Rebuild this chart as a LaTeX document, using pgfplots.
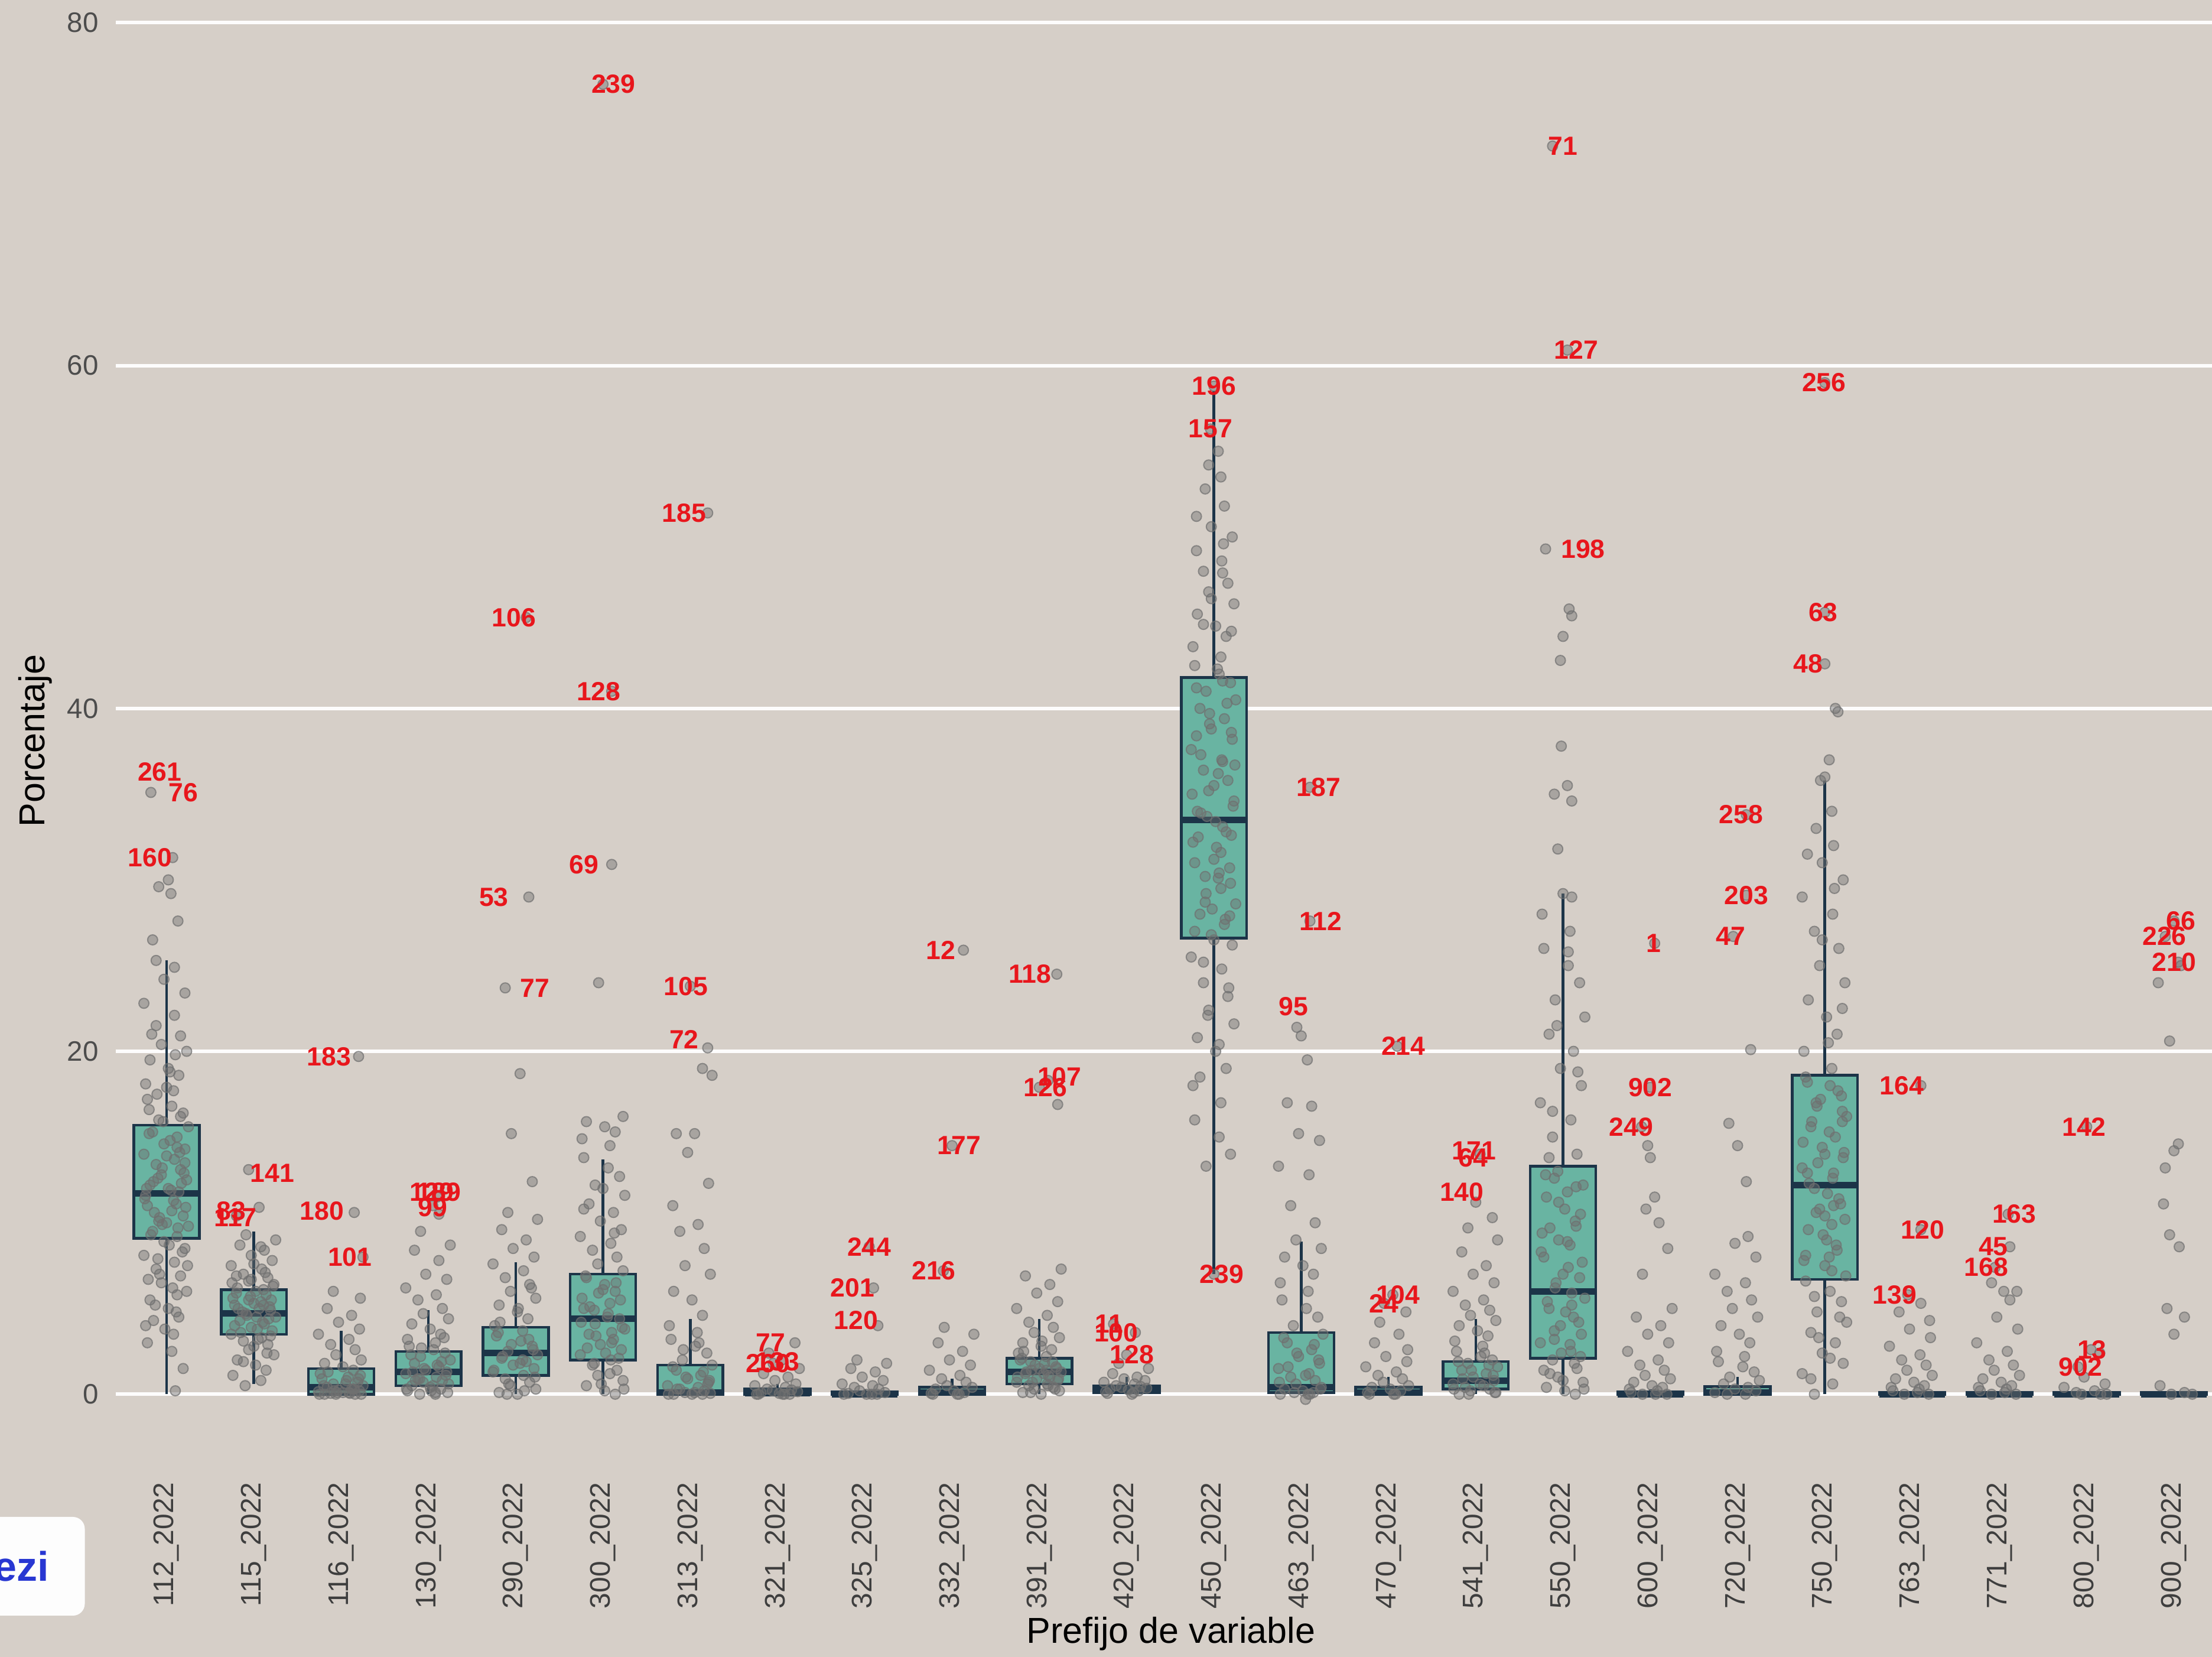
\documentclass[border=0pt]{standalone}
\usepackage{fontspec}
\setmainfont{Liberation Sans}
\usepackage{pgfplots}
\usepackage{pgfplotstable}
\pgfplotsset{compat=1.18}
\usepgfplotslibrary{statistics}
\definecolor{bgc}{RGB}{214,207,200}
\definecolor{boxfill}{RGB}{105,180,162}
\definecolor{boxline}{RGB}{28,52,72}
\definecolor{ptc}{RGB}{112,112,112}
\definecolor{labred}{RGB}{232,22,28}
\definecolor{tickc}{RGB}{77,77,77}
\definecolor{xtickc}{RGB}{62,62,62}
\definecolor{prezi}{RGB}{40,55,210}

\pgfplotstableread[row sep=\\]{d v\\ -0.18 35.1\\ 0.07 31.3\\ 0.02 30.0\\ -0.09 29.6\\ 0.05 29.2\\ 0.13 27.6\\ -0.16 26.5\\ -0.12 25.3\\ 0.09 24.9\\ -0.03 24.2\\ 0.21 23.4\\ -0.26 22.8\\ 0.09 22.1\\ -0.12 21.5\\ 0.16 20.9\\ -0.06 20.4\\ 0.23 20.0\\ -0.19 19.5\\ 0.02 19.0\\ 0.14 18.6\\ -0.24 18.1\\ 0.08 17.7\\ -0.22 17.2\\ 0.06 16.8\\ 0.19 16.4\\ -0.09 16.0\\ 0.25 15.6\\ -0.16 15.3\\ 0.12 15.0\\ -0.03 14.6\\ 0.21 14.3\\ -0.26 14.0\\ 0.09 13.7\\ -0.12 13.4\\ 0.16 13.1\\ -0.06 12.8\\ 0.23 12.5\\ -0.19 12.2\\ 0.02 12.0\\ 0.14 11.8\\ -0.24 11.6\\ 0.08 11.3\\ -0.22 11.0\\ 0.06 10.7\\ 0.19 10.4\\ -0.09 10.1\\ 0.25 9.8\\ -0.16 9.5\\ 0.12 9.2\\ -0.03 8.9\\ 0.21 8.5\\ -0.26 8.1\\ 0.09 7.7\\ -0.12 7.3\\ 0.16 6.9\\ -0.06 6.5\\ 0.23 6.0\\ -0.19 5.5\\ 0.02 5.0\\ 0.14 4.5\\ -0.24 4.0\\ 0.08 3.5\\ -0.22 3.0\\ 0.06 2.5\\ 0.19 1.5\\ 0.1 0.2\\ 0.0 13.9\\ -0.1 12.6\\ 0.11 11.1\\ -0.05 9.9\\ 0.04 14.8\\ -0.14 10.6\\ 0.0 17.9\\ -0.2 16.6\\ 0.17 12.3\\ -0.08 7.0\\ 0.12 5.8\\ -0.15 4.3\\ -0.2 15.2\\ 0.15 14.1\\ -0.05 13.2\\ 0.2 12.9\\ -0.15 12.4\\ 0.05 11.9\\ -0.25 11.4\\ 0.22 10.9\\ -0.08 10.3\\ 0.13 9.7\\ -0.18 9.3\\ 0.03 8.7\\ 0.18 8.3\\ -0.1 7.9\\ 0.24 7.5\\ -0.21 6.7\\ 0.07 6.2\\ -0.13 5.2\\ 0.11 4.8\\ -0.02 3.8\\ 0.16 16.2\\ -0.11 17.5\\ 0.04 18.8\\ -0.17 21.0\\ 0.1 19.8\\ -0.04 15.9\\ 0.21 13.5\\ -0.23 12.0\\ 0.0 10.0\\ 0.12 14.4\\}\tA
\pgfplotstableread[row sep=\\]{d v\\ -0.06 13.1\\ 0.06 10.9\\ -0.2 10.4\\ -0.09 9.3\\ 0.25 9.0\\ -0.16 8.7\\ 0.12 8.4\\ -0.03 8.1\\ 0.21 7.8\\ -0.26 7.5\\ 0.09 7.3\\ -0.12 7.0\\ 0.16 6.8\\ -0.06 6.6\\ 0.23 6.4\\ -0.19 6.2\\ 0.02 6.0\\ 0.14 5.8\\ -0.24 5.6\\ 0.08 5.4\\ -0.22 5.2\\ 0.06 5.0\\ 0.19 4.9\\ -0.09 4.7\\ 0.25 4.5\\ -0.16 4.3\\ 0.12 4.1\\ -0.03 3.9\\ 0.21 3.7\\ -0.26 3.5\\ 0.09 3.3\\ -0.12 3.1\\ 0.16 2.9\\ -0.06 2.6\\ 0.23 2.3\\ -0.19 2.0\\ 0.02 1.7\\ 0.14 1.4\\ -0.24 1.1\\ 0.08 0.8\\ -0.1 0.5\\ 0.0 5.3\\ -0.13 4.8\\ 0.11 6.1\\ 0.04 3.8\\ -0.04 5.7\\ 0.17 4.4\\ -0.2 6.9\\ 0.2 5.5\\ 0.0 7.6\\ -0.2 5.9\\ 0.18 5.1\\ -0.08 4.6\\ 0.1 4.2\\ -0.15 3.6\\ 0.05 3.2\\ 0.22 6.3\\ -0.03 6.7\\ 0.13 7.1\\ -0.22 4.0\\ 0.0 2.8\\ 0.15 2.4\\ -0.12 1.9\\ 0.08 8.6\\ -0.18 5.0\\ 0.03 4.5\\ 0.19 3.4\\ -0.06 5.5\\ 0.11 5.2\\ -0.25 6.5\\}\tB
\pgfplotstableread[row sep=\\]{d v\\ 0.2 19.7\\ 0.15 10.6\\ 0.25 8.0\\ -0.09 6.0\\ 0.22 5.6\\ -0.16 5.0\\ 0.12 4.6\\ -0.03 4.2\\ 0.21 3.8\\ -0.26 3.5\\ 0.09 3.2\\ -0.12 2.9\\ 0.16 2.6\\ -0.06 2.3\\ 0.23 2.0\\ -0.19 1.8\\ 0.02 1.6\\ 0.14 1.4\\ -0.24 1.2\\ 0.08 1.0\\ -0.22 0.9\\ 0.06 0.8\\ 0.19 0.7\\ -0.09 0.6\\ 0.25 0.5\\ -0.16 0.4\\ 0.12 0.3\\ -0.03 0.25\\ 0.21 0.2\\ -0.26 0.15\\ 0.09 0.1\\ -0.12 0.05\\ 0.16 0\\ -0.06 0\\ 0.23 0\\ -0.19 0\\ 0.02 0.1\\ 0.14 0.3\\ -0.2 0.5\\ 0.15 0.3\\ -0.05 0.1\\ 0.2 0.9\\ -0.15 1.3\\ 0.05 0.6\\ -0.25 0\\ 0.22 1.1\\ -0.08 0.2\\ 0.1 0.05\\}\tC
\pgfplotstableread[row sep=\\]{d v\\ 0.1 11.5\\ 0.05 11.0\\ 0.12 10.5\\ -0.09 9.5\\ 0.25 8.7\\ -0.16 8.4\\ 0.12 7.8\\ -0.03 7.0\\ 0.21 6.7\\ -0.26 6.2\\ 0.09 5.8\\ -0.12 5.5\\ 0.16 5.0\\ -0.06 4.7\\ 0.23 4.4\\ -0.19 4.1\\ 0.02 3.8\\ 0.14 3.5\\ -0.24 3.2\\ 0.08 3.0\\ -0.22 2.8\\ 0.06 2.6\\ 0.19 2.4\\ -0.09 2.2\\ 0.25 2.0\\ -0.16 1.8\\ 0.12 1.6\\ -0.03 1.4\\ 0.21 1.3\\ -0.26 1.2\\ 0.09 1.0\\ -0.12 0.9\\ 0.16 0.8\\ -0.06 0.7\\ 0.23 0.6\\ -0.19 0.5\\ 0.02 0.4\\ 0.14 0.3\\ -0.24 0.2\\ 0.08 0.1\\ -0.1 0\\ -0.2 2.3\\ 0.15 1.9\\ -0.05 1.5\\ 0.2 1.1\\ -0.15 0.8\\ 0.05 0.5\\ -0.25 0.3\\ 0.22 0.1\\ -0.08 2.7\\ 0.1 1.7\\ -0.18 1.3\\ 0.03 0.2\\ 0.18 3.3\\ -0.1 0.9\\ 0.08 0\\}\tD
\pgfplotstableread[row sep=\\]{d v\\ 0.12 45.3\\ 0.15 29.0\\ -0.12 23.7\\ 0.05 18.7\\ -0.05 15.2\\ 0.19 12.4\\ -0.09 10.6\\ 0.25 10.2\\ -0.16 9.6\\ 0.12 9.0\\ -0.03 8.5\\ 0.21 8.0\\ -0.26 7.6\\ 0.09 7.2\\ -0.12 6.8\\ 0.16 6.4\\ -0.06 6.0\\ 0.23 5.6\\ -0.19 5.2\\ 0.02 4.8\\ 0.14 4.4\\ -0.24 4.0\\ 0.08 3.7\\ -0.22 3.4\\ 0.06 3.1\\ 0.19 2.8\\ -0.09 2.5\\ 0.25 2.3\\ -0.16 2.1\\ 0.12 1.9\\ -0.03 1.7\\ 0.21 1.5\\ -0.26 1.3\\ 0.09 1.1\\ -0.12 0.9\\ 0.16 0.7\\ -0.06 0.5\\ 0.23 0.3\\ -0.19 0.1\\ 0.02 0\\ -0.2 3.6\\ 0.15 3.2\\ -0.05 2.9\\ 0.2 2.6\\ -0.15 2.2\\ 0.05 1.8\\ -0.25 1.4\\ 0.22 1.0\\ -0.08 0.6\\ 0.1 0.2\\ -0.18 4.2\\ 0.03 5.0\\ 0.18 6.2\\ -0.1 0\\ 0.08 2.0\\}\tE
\pgfplotstableread[row sep=\\]{d v\\ 0.0 76.4\\ 0.1 41.0\\ 0.1 30.9\\ -0.05 24.0\\ 0.23 16.2\\ -0.19 15.9\\ 0.02 15.6\\ 0.14 15.3\\ -0.24 14.9\\ 0.08 14.5\\ -0.22 13.8\\ 0.06 13.2\\ 0.19 12.7\\ -0.09 12.2\\ 0.25 11.6\\ -0.16 11.1\\ 0.12 10.6\\ -0.03 10.1\\ 0.21 9.6\\ -0.26 9.2\\ 0.09 8.8\\ -0.12 8.4\\ 0.16 8.0\\ -0.06 7.6\\ 0.23 7.2\\ -0.19 6.8\\ 0.02 6.4\\ 0.14 6.0\\ -0.24 5.6\\ 0.08 5.3\\ -0.22 5.0\\ 0.06 4.7\\ 0.19 4.4\\ -0.09 4.1\\ 0.25 3.8\\ -0.16 3.5\\ 0.12 3.2\\ -0.03 2.9\\ 0.21 2.6\\ -0.26 2.3\\ 0.09 2.0\\ -0.12 1.7\\ 0.16 1.4\\ -0.06 1.1\\ 0.23 0.8\\ -0.19 0.5\\ 0.02 0.2\\ 0.14 0\\ 0.0 6.1\\ -0.1 4.9\\ 0.1 3.6\\ -0.2 6.9\\ 0.15 6.5\\ -0.05 5.9\\ 0.2 5.5\\ -0.15 5.1\\ 0.05 4.5\\ -0.25 4.2\\ 0.22 3.9\\ -0.08 3.4\\ 0.1 3.0\\ -0.18 2.7\\ 0.03 2.4\\ 0.18 2.1\\ -0.1 1.8\\ 0.08 1.2\\ -0.02 0.6\\ 0.13 9.4\\ -0.22 10.8\\ 0.0 12.0\\ 0.24 0.3\\}\tF
\pgfplotstableread[row sep=\\]{d v\\ 0.2 51.4\\ 0.0 23.8\\ 0.2 20.2\\ 0.14 19.0\\ 0.25 18.6\\ -0.16 15.2\\ 0.05 15.2\\ -0.03 14.1\\ 0.21 12.3\\ -0.2 11.0\\ 0.09 9.9\\ -0.12 9.5\\ 0.16 8.5\\ -0.06 7.5\\ 0.23 7.0\\ -0.19 6.0\\ 0.02 5.5\\ 0.14 4.6\\ -0.24 4.0\\ 0.08 3.6\\ -0.22 3.2\\ 0.06 2.8\\ 0.19 2.4\\ -0.09 2.0\\ 0.25 1.7\\ -0.16 1.4\\ 0.12 1.1\\ -0.03 0.9\\ 0.21 0.7\\ -0.26 0.5\\ 0.09 0.4\\ -0.12 0.3\\ 0.16 0.2\\ -0.06 0.1\\ 0.23 0.05\\ -0.19 0\\ 0.02 0\\ 0.14 0\\ -0.2 1.6\\ 0.15 1.3\\ -0.05 1.0\\ 0.2 0.6\\ -0.15 0.3\\ 0.05 0.1\\ -0.25 0\\ 0.22 0.8\\ -0.08 2.6\\ 0.1 3.0\\}\tG
\pgfplotstableread[row sep=\\]{d v\\ 0.2 3.0\\ -0.1 2.4\\ 0.05 2.0\\ -0.05 1.8\\ 0.25 1.5\\ -0.16 1.2\\ 0.12 1.0\\ -0.03 0.8\\ 0.21 0.6\\ -0.26 0.5\\ 0.09 0.4\\ -0.12 0.3\\ 0.16 0.25\\ -0.06 0.2\\ 0.23 0.15\\ -0.19 0.1\\ 0.02 0.05\\ 0.14 0\\ -0.24 0\\ 0.08 0\\ -0.22 0\\ 0.06 0\\}\tH
\pgfplotstableread[row sep=\\]{d v\\ 0.05 8.6\\ 0.1 6.2\\ 0.15 4.0\\ -0.09 2.0\\ 0.25 1.8\\ -0.16 1.5\\ 0.12 1.3\\ -0.03 1.0\\ 0.21 0.8\\ -0.26 0.6\\ 0.09 0.5\\ -0.12 0.4\\ 0.16 0.3\\ -0.06 0.2\\ 0.23 0.1\\ -0.19 0.05\\ 0.02 0\\ 0.14 0\\ -0.24 0\\ 0.08 0\\}\tI
\pgfplotstableread[row sep=\\]{d v\\ 0.13 25.9\\ 0.0 14.5\\ -0.1 7.2\\ -0.09 3.9\\ 0.25 3.5\\ -0.16 3.0\\ 0.12 2.5\\ -0.03 2.0\\ 0.21 1.7\\ -0.26 1.4\\ 0.09 1.1\\ -0.12 0.9\\ 0.16 0.7\\ -0.06 0.5\\ 0.23 0.4\\ -0.19 0.3\\ 0.02 0.2\\ 0.14 0.1\\ -0.24 0.05\\ 0.08 0\\ -0.22 0\\ 0.06 0\\}\tJ
\pgfplotstableread[row sep=\\]{d v\\ 0.2 24.5\\ 0.1 18.3\\ 0.0 17.9\\ 0.21 16.9\\ 0.25 7.3\\ -0.16 6.9\\ 0.12 6.4\\ -0.03 5.9\\ 0.21 5.4\\ -0.26 5.0\\ 0.09 4.6\\ -0.12 4.2\\ 0.16 3.9\\ -0.06 3.6\\ 0.23 3.3\\ -0.19 3.0\\ 0.02 2.8\\ 0.14 2.6\\ -0.24 2.4\\ 0.08 2.2\\ -0.22 2.0\\ 0.06 1.8\\ 0.19 1.6\\ -0.09 1.4\\ 0.25 1.3\\ -0.16 1.2\\ 0.12 1.0\\ -0.03 0.9\\ 0.21 0.8\\ -0.26 0.7\\ 0.09 0.6\\ -0.12 0.5\\ 0.16 0.4\\ -0.06 0.3\\ 0.23 0.2\\ -0.19 0.1\\ 0.02 0\\ 0.0 1.5\\ -0.1 1.9\\ 0.1 1.1\\ -0.2 2.1\\ 0.15 1.9\\ -0.05 1.7\\ 0.2 1.5\\ -0.15 1.3\\ 0.05 1.2\\ -0.25 1.0\\ 0.22 0.9\\ -0.08 0.7\\ 0.1 0.5\\ -0.18 2.5\\ 0.03 3.1\\ 0.18 0.3\\ -0.1 0.1\\ 0.08 1.4\\}\tK
\pgfplotstableread[row sep=\\]{d v\\ -0.15 4.1\\ 0.1 3.6\\ 0.0 2.3\\ -0.09 1.8\\ 0.25 1.5\\ -0.16 1.2\\ 0.12 1.0\\ -0.03 0.9\\ 0.21 0.8\\ -0.26 0.7\\ 0.09 0.6\\ -0.12 0.5\\ 0.16 0.45\\ -0.06 0.4\\ 0.23 0.35\\ -0.19 0.3\\ 0.02 0.25\\ 0.14 0.2\\ -0.24 0.15\\ 0.08 0.1\\ -0.22 0.05\\ 0.06 0\\}\tL
\pgfplotstableread[row sep=\\]{d v\\ 0.0 58.8\\ -0.04 56.3\\ 0.05 55.0\\ -0.06 54.2\\ 0.08 53.5\\ -0.1 52.8\\ 0.12 51.8\\ -0.03 50.6\\ 0.21 50.0\\ -0.2 49.2\\ 0.09 48.6\\ -0.12 48.0\\ 0.16 47.3\\ -0.06 46.8\\ 0.23 46.1\\ -0.19 45.5\\ 0.02 44.8\\ 0.14 44.2\\ -0.24 43.6\\ 0.08 43.0\\ -0.22 42.5\\ 0.06 42.0\\ 0.19 41.5\\ -0.09 41.0\\ 0.25 40.5\\ -0.16 40.0\\ 0.12 39.4\\ -0.03 38.8\\ 0.21 38.2\\ -0.26 37.6\\ 0.09 37.0\\ -0.12 36.4\\ 0.16 35.8\\ -0.06 35.2\\ 0.23 34.6\\ -0.19 34.0\\ 0.02 33.4\\ 0.14 32.8\\ -0.24 32.2\\ 0.08 31.6\\ -0.22 31.0\\ 0.06 30.4\\ 0.19 29.8\\ -0.09 29.2\\ 0.25 28.6\\ -0.16 28.0\\ 0.12 27.4\\ -0.03 26.8\\ 0.21 26.2\\ -0.26 25.5\\ 0.09 24.8\\ -0.12 24.0\\ 0.16 23.2\\ -0.06 22.4\\ 0.23 21.6\\ -0.19 20.8\\ 0.02 20.0\\ 0.14 19.0\\ -0.24 18.0\\ 0.08 17.0\\ -0.22 16.0\\ 0.06 15.0\\ 0.19 14.0\\ -0.09 13.3\\ 0.0 7.0\\ 0.1 36.9\\ -0.15 33.9\\ 0.05 30.1\\ -0.05 39.7\\ 0.18 27.9\\ -0.1 28.7\\ 0.0 35.5\\ 0.1 41.6\\ -0.2 38.4\\ 0.2 32.6\\ 0.0 31.2\\ -0.12 44.9\\ 0.1 47.9\\ -0.2 41.2\\ 0.15 40.3\\ -0.05 39.1\\ 0.2 38.6\\ -0.15 37.3\\ 0.05 36.2\\ -0.25 35.0\\ 0.22 34.3\\ -0.08 33.7\\ 0.1 33.1\\ -0.18 32.5\\ 0.03 31.9\\ 0.18 30.7\\ -0.1 30.2\\ 0.08 29.5\\ -0.02 28.3\\ 0.13 27.7\\ -0.22 27.0\\ 0.0 26.5\\ 0.24 36.7\\ -0.12 25.2\\ 0.17 23.7\\ -0.07 22.1\\ 0.06 20.4\\ -0.16 18.5\\ 0.2 44.5\\ -0.03 46.4\\ 0.11 49.6\\ -0.2 51.2\\ 0.04 42.3\\}\tM
\pgfplotstableread[row sep=\\]{d v\\ 0.1 35.4\\ 0.1 27.6\\ -0.05 21.4\\ 0.0 20.9\\ 0.07 19.5\\ -0.16 17.0\\ 0.12 16.8\\ -0.03 15.2\\ 0.21 14.8\\ -0.26 13.3\\ 0.09 12.8\\ -0.12 11.0\\ 0.16 10.0\\ -0.06 9.0\\ 0.23 8.5\\ -0.19 8.0\\ 0.02 7.5\\ 0.14 7.0\\ -0.24 6.5\\ 0.08 6.0\\ -0.22 5.5\\ 0.06 5.0\\ 0.19 4.5\\ -0.09 4.0\\ 0.25 3.5\\ -0.16 3.0\\ 0.12 2.6\\ -0.03 2.2\\ 0.21 1.8\\ -0.26 1.5\\ 0.09 1.2\\ -0.12 1.0\\ 0.16 0.8\\ -0.06 0.6\\ 0.23 0.4\\ -0.19 0.3\\ 0.02 0.2\\ 0.14 0.1\\ -0.24 0\\ 0.08 0\\ 0.05 -0.3\\ -0.2 3.3\\ 0.15 2.9\\ -0.05 2.4\\ 0.2 2.0\\ -0.15 1.6\\ 0.05 1.1\\ -0.25 0.7\\ 0.22 0.3\\ -0.08 0.1\\ 0.1 0\\}\tN
\pgfplotstableread[row sep=\\]{d v\\ 0.1 20.3\\ 0.05 5.8\\ -0.05 5.3\\ 0.2 4.8\\ -0.1 4.2\\ 0.12 3.5\\ -0.16 3.0\\ 0.22 2.6\\ -0.03 2.2\\ 0.21 1.9\\ -0.26 1.6\\ 0.09 1.3\\ -0.12 1.1\\ 0.16 0.9\\ -0.06 0.7\\ 0.23 0.5\\ -0.19 0.4\\ 0.02 0.3\\ 0.14 0.2\\ -0.24 0.1\\ 0.08 0\\ -0.22 0\\ 0.06 0\\}\tO
\pgfplotstableread[row sep=\\]{d v\\ 0.05 14.0\\ 0.0 11.2\\ 0.19 10.3\\ -0.09 9.7\\ 0.25 9.0\\ -0.16 8.3\\ 0.12 7.5\\ -0.03 7.0\\ 0.21 6.5\\ -0.26 6.0\\ 0.09 5.5\\ -0.12 5.2\\ 0.16 4.9\\ -0.06 4.6\\ 0.23 4.3\\ -0.19 4.0\\ 0.02 3.7\\ 0.14 3.4\\ -0.24 3.1\\ 0.08 2.8\\ -0.22 2.5\\ 0.06 2.2\\ 0.19 2.0\\ -0.09 1.8\\ 0.25 1.6\\ -0.16 1.4\\ 0.12 1.2\\ -0.03 1.0\\ 0.21 0.8\\ -0.26 0.6\\ 0.09 0.5\\ -0.12 0.4\\ 0.16 0.3\\ -0.06 0.2\\ 0.23 0.1\\ -0.19 0\\ -0.2 1.9\\ 0.15 1.7\\ -0.05 1.4\\ 0.2 1.1\\ -0.15 0.9\\ 0.05 0.6\\ -0.25 0.3\\ 0.22 0.1\\ -0.08 0\\ 0.1 2.4\\}\tP
\pgfplotstableread[row sep=\\]{d v\\ -0.12 72.8\\ 0.05 60.9\\ -0.2 49.3\\ 0.07 45.8\\ 0.1 45.4\\ 0.0 44.2\\ -0.03 42.8\\ -0.02 37.8\\ 0.05 35.5\\ -0.1 35.0\\ 0.1 34.6\\ -0.06 31.8\\ 0.0 29.2\\ 0.1 29.0\\ -0.24 28.0\\ 0.08 27.0\\ -0.22 26.0\\ 0.06 25.0\\ 0.19 24.0\\ -0.09 23.0\\ 0.25 22.0\\ -0.16 21.0\\ 0.12 20.0\\ -0.03 19.0\\ 0.21 18.0\\ -0.26 17.0\\ 0.09 16.0\\ -0.12 15.0\\ 0.16 14.0\\ -0.06 13.0\\ 0.23 12.2\\ -0.19 11.5\\ 0.02 10.8\\ 0.14 10.1\\ -0.24 9.4\\ 0.08 8.7\\ -0.22 8.0\\ 0.06 7.4\\ 0.19 6.8\\ -0.09 6.2\\ 0.25 5.6\\ -0.16 5.0\\ 0.12 4.5\\ -0.03 4.0\\ 0.21 3.5\\ -0.26 3.0\\ 0.09 2.5\\ -0.12 2.0\\ 0.16 1.5\\ -0.06 1.0\\ 0.23 0.7\\ -0.19 0.4\\ 0.02 0.2\\ 0.14 0\\ -0.05 9.0\\ 0.1 5.2\\ -0.1 3.2\\ 0.0 7.0\\ 0.2 2.2\\ -0.15 1.2\\ 0.05 11.8\\ -0.1 12.6\\ 0.15 9.8\\ -0.2 12.8\\ 0.15 12.1\\ -0.05 11.2\\ 0.2 10.5\\ -0.15 9.7\\ 0.05 8.9\\ -0.25 8.3\\ 0.22 7.7\\ -0.08 6.5\\ 0.1 5.9\\ -0.18 5.4\\ 0.03 4.8\\ 0.18 4.2\\ -0.1 3.7\\ 0.08 2.9\\ -0.02 2.4\\ 0.13 1.8\\ -0.22 1.4\\ 0.0 0.8\\ 0.24 0.3\\ -0.12 16.5\\ 0.17 18.8\\ -0.07 21.5\\ 0.06 25.8\\ -0.16 13.8\\}\tQ
\pgfplotstableread[row sep=\\]{d v\\ 0.05 26.3\\ 0.0 17.9\\ -0.1 15.6\\ -0.03 14.5\\ 0.0 13.8\\ 0.05 11.5\\ -0.05 10.8\\ 0.1 10.0\\ 0.2 8.5\\ -0.09 7.0\\ 0.25 5.0\\ -0.16 4.5\\ 0.12 4.0\\ -0.03 3.5\\ 0.21 3.0\\ -0.26 2.5\\ 0.09 2.0\\ -0.12 1.7\\ 0.16 1.4\\ -0.06 1.1\\ 0.23 0.9\\ -0.19 0.7\\ 0.02 0.5\\ 0.14 0.4\\ -0.24 0.3\\ 0.08 0.2\\ -0.22 0.1\\ 0.06 0\\ 0.19 0\\ -0.09 0\\}\tR
\pgfplotstableread[row sep=\\]{d v\\ 0.1 33.8\\ 0.1 29.1\\ -0.05 26.7\\ 0.15 20.1\\ -0.1 15.8\\ 0.0 14.5\\ 0.1 12.4\\ 0.12 9.2\\ -0.03 8.8\\ 0.21 8.0\\ -0.26 7.0\\ 0.09 6.5\\ -0.12 6.0\\ 0.16 5.5\\ -0.06 5.0\\ 0.23 4.5\\ -0.19 4.0\\ 0.02 3.5\\ 0.14 3.0\\ -0.24 2.5\\ 0.08 2.2\\ -0.22 1.9\\ 0.06 1.6\\ 0.19 1.3\\ -0.09 1.0\\ 0.25 0.8\\ -0.16 0.6\\ 0.12 0.4\\ -0.03 0.3\\ 0.21 0.2\\ -0.26 0.1\\ 0.09 0\\ -0.12 0\\}\tS
\pgfplotstableread[row sep=\\]{d v\\ 0.0 59.0\\ 0.0 45.6\\ 0.0 42.6\\ 0.12 40.0\\ 0.15 39.8\\ 0.05 37.0\\ 0.0 36.0\\ -0.05 35.8\\ 0.08 34.0\\ -0.1 33.0\\ 0.1 32.0\\ -0.03 31.0\\ 0.21 30.0\\ -0.26 29.0\\ 0.09 28.0\\ -0.12 27.0\\ 0.16 26.0\\ -0.06 25.0\\ 0.23 24.0\\ -0.19 23.0\\ 0.02 22.0\\ 0.14 21.0\\ -0.24 20.0\\ 0.08 19.0\\ -0.22 18.5\\ 0.06 18.0\\ 0.19 17.4\\ -0.09 16.8\\ 0.25 16.2\\ -0.16 15.6\\ 0.12 15.0\\ -0.03 14.4\\ 0.21 13.8\\ -0.26 13.2\\ 0.09 12.6\\ -0.12 12.0\\ 0.16 11.4\\ -0.06 10.8\\ 0.23 10.2\\ -0.19 9.6\\ 0.02 9.0\\ 0.14 8.4\\ -0.24 7.8\\ 0.08 7.2\\ -0.22 6.6\\ 0.06 6.0\\ 0.19 5.4\\ -0.09 4.8\\ 0.25 4.2\\ -0.16 3.6\\ 0.12 3.0\\ -0.03 2.4\\ 0.21 1.8\\ -0.26 1.2\\ 0.09 0.6\\ -0.12 0\\ 0.0 14.0\\ -0.1 17.0\\ 0.1 11.0\\ 0.05 8.0\\ -0.2 12.9\\ 0.2 15.9\\ 0.0 10.4\\ -0.2 18.2\\ 0.15 17.7\\ -0.05 17.2\\ 0.2 16.5\\ -0.15 15.9\\ 0.05 15.3\\ -0.25 14.7\\ 0.22 14.1\\ -0.08 13.5\\ 0.1 12.9\\ -0.18 12.3\\ 0.03 11.7\\ 0.18 11.1\\ -0.1 10.6\\ 0.08 9.9\\ -0.02 9.3\\ 0.13 8.7\\ -0.22 8.1\\ 0.0 7.5\\ 0.24 6.9\\ -0.12 5.7\\ 0.17 4.5\\ -0.07 3.3\\ 0.06 2.1\\ -0.16 0.9\\ 0.2 22.5\\ -0.03 26.5\\ 0.11 29.5\\ -0.2 31.5\\ 0.04 20.5\\}\tT
\pgfplotstableread[row sep=\\]{d v\\ 0.1 18.0\\ 0.1 9.6\\ -0.05 5.8\\ 0.1 5.3\\ -0.15 4.8\\ 0.2 4.3\\ -0.03 3.8\\ 0.21 3.3\\ -0.26 2.8\\ 0.09 2.3\\ -0.12 2.0\\ 0.16 1.7\\ -0.06 1.4\\ 0.23 1.1\\ -0.19 0.9\\ 0.02 0.7\\ 0.14 0.5\\ -0.24 0.4\\ 0.08 0.3\\ -0.22 0.2\\ 0.06 0.1\\ 0.19 0\\ -0.09 0\\}\tU
\pgfplotstableread[row sep=\\]{d v\\ 0.1 10.5\\ 0.12 8.6\\ -0.05 7.4\\ -0.09 6.5\\ 0.2 6.0\\ 0.05 6.0\\ 0.12 5.5\\ -0.03 4.5\\ 0.21 3.8\\ -0.26 3.0\\ 0.09 2.5\\ -0.12 2.0\\ 0.16 1.7\\ -0.06 1.4\\ 0.23 1.1\\ -0.19 0.9\\ 0.02 0.7\\ 0.14 0.5\\ -0.24 0.4\\ 0.08 0.3\\ -0.22 0.2\\ 0.06 0.1\\ 0.19 0\\ -0.09 0\\}\tV
\pgfplotstableread[row sep=\\]{d v\\ 0.0 15.6\\ 0.05 2.6\\ -0.1 1.6\\ 0.15 2.4\\ -0.03 1.0\\ 0.21 0.6\\ -0.26 0.4\\ 0.09 0.2\\ -0.12 0.1\\ 0.16 0\\ -0.06 0\\ 0.23 0\\}\tW
\pgfplotstableread[row sep=\\]{d v\\ 0.0 27.6\\ -0.1 26.7\\ 0.05 25.2\\ 0.08 25.0\\ -0.18 24.0\\ -0.05 20.6\\ 0.05 14.6\\ 0.0 14.2\\ -0.1 13.2\\ -0.12 11.1\\ -0.05 9.3\\ 0.06 8.6\\ -0.08 5.0\\ 0.12 4.5\\ 0.0 3.5\\ -0.16 0.5\\ 0.12 0.1\\ -0.03 0\\ 0.21 0\\}\tX

\pgfplotstableread[row sep=\\]{x y l\\ 0.92 36.3 261\\ 1.19 35.1 76\\ 0.81 31.3 160\\ 2.21 12.9 141\\ 1.74 10.7 83\\ 1.79 10.3 117\\ 2.86 19.7 183\\ 2.78 10.7 180\\ 3.10 8.0 101\\ 4.04 11.8 129\\ 4.12 11.8 189\\ 4.05 10.9 99\\ 4.98 45.3 106\\ 4.75 29.0 53\\ 5.22 23.7 77\\ 6.12 76.4 239\\ 5.95 41.0 128\\ 5.78 30.9 69\\ 6.93 51.4 185\\ 6.95 23.8 105\\ 6.93 20.7 72\\ 7.92 3.0 77\\ 7.89 1.8 260\\ 8.0 1.9 133\\ 9.05 8.6 244\\ 8.86 6.2 201\\ 8.90 4.3 120\\ 9.87 25.9 12\\ 10.08 14.5 177\\ 9.79 7.2 216\\ 10.89 24.5 118\\ 11.23 18.5 107\\ 11.07 17.9 126\\ 11.80 4.1 11\\ 11.88 3.6 100\\ 12.06 2.3 128\\ 13.0 58.8 196\\ 12.96 56.3 157\\ 13.09 7.0 239\\ 14.2 35.4 187\\ 14.22 27.6 112\\ 13.91 22.6 95\\ 15.17 20.3 214\\ 15.11 5.8 104\\ 14.95 5.3 24\\ 15.98 14.2 171\\ 15.97 13.8 64\\ 15.84 11.8 140\\ 17.0 72.8 71\\ 17.15 60.9 127\\ 17.23 49.3 198\\ 18.0 17.9 902\\ 17.78 15.6 249\\ 18.04 26.3 1\\ 19.04 33.8 258\\ 19.1 29.1 203\\ 18.92 26.7 47\\ 19.99 59.0 256\\ 19.98 45.6 63\\ 19.81 42.6 48\\ 20.88 18.0 164\\ 21.12 9.6 120\\ 20.8 5.8 139\\ 22.17 10.5 163\\ 21.93 8.6 45\\ 21.85 7.4 168\\ 22.97 15.6 142\\ 23.06 2.6 13\\ 22.93 1.6 902\\ 23.89 26.7 226\\ 24.08 27.6 66\\ 24.0 25.2 210\\}\labs

\pgfplotsset{
  bxs/.style={fill=boxfill, draw=boxline, line width=0.9pt, boxplot/every median/.style={line width=2.2pt}},
  pts/.style={only marks, mark=*, mark size=1.7pt, mark options={draw=ptc, fill=ptc, draw opacity=0.7, fill opacity=0.45, line width=0.4pt}},
}

\begin{document}
\begin{tikzpicture}
\fill[bgc] (-39.2pt,-66.3pt) rectangle (709.6pt,494.5pt);
\fill[white!96!bgc, rounded corners=4pt] (-48.7pt,-52.3pt) rectangle (-10.5pt,-18.9pt);
\node[anchor=east, inner sep=0pt, font=\fontsize{14}{14}\selectfont\bfseries, text=prezi] at (-22.4pt,-35.6pt) {Prezi};
\begin{axis}[
  at={(0pt,0pt)}, anchor=south west,
  scale only axis, width=709.6pt, height=494.5pt,
  xmin=0.418, xmax=24.436, ymin=-3.9, ymax=81.32,
  axis line style={draw=none}, major tick length=0pt,
  ytick={0,20,40,60,80},
  ymajorgrids, grid style={color=white!94!bgc, line width=1.2pt},
  xtick={1,...,24},
  xticklabels={112\_2022,115\_2022,116\_2022,130\_2022,290\_2022,300\_2022,313\_2022,321\_2022,325\_2022,332\_2022,391\_2022,420\_2022,450\_2022,463\_2022,470\_2022,541\_2022,550\_2022,600\_2022,720\_2022,750\_2022,763\_2022,771\_2022,800\_2022,900\_2022},
  xticklabel style={rotate=90, anchor=east, inner sep=0pt, font=\fontsize{9.6}{9.6}\selectfont, text=xtickc},
  xticklabel shift=7pt,
  yticklabel style={anchor=east, inner sep=0pt, font=\fontsize{9.5}{9.5}\selectfont, text=tickc},
  yticklabel shift=5.7pt,
  /pgf/number format/assume math mode=true,
  xlabel={Prefijo de variable}, ylabel={Porcentaje},
  every axis x label/.style={at={(axis description cs:0.5034,-0.1184)}, anchor=center, font=\fontsize{12.2}{12.2}\selectfont},
  every axis y label/.style={at={(axis description cs:-0.03836,0.4929)}, anchor=center, rotate=90, font=\fontsize{12.2}{12.2}\selectfont},
  boxplot/draw direction=y,
  boxplot/box extend=0.75, boxplot/whisker extend=0,
]
\addplot[bxs, boxplot prepared={draw position=1, lower whisker=0, lower quartile=9.1, median=11.7, upper quartile=15.7, upper whisker=25.3}] coordinates {};
\addplot[bxs, boxplot prepared={draw position=2, lower whisker=0.6, lower quartile=3.5, median=4.7, upper quartile=6.1, upper whisker=9.5}] coordinates {};
\addplot[bxs, boxplot prepared={draw position=3, lower whisker=0, lower quartile=0, median=0.4, upper quartile=1.5, upper whisker=3.7}] coordinates {};
\addplot[bxs, boxplot prepared={draw position=4, lower whisker=0, lower quartile=0.5, median=1.3, upper quartile=2.5, upper whisker=4.9}] coordinates {};
\addplot[bxs, boxplot prepared={draw position=5, lower whisker=0, lower quartile=1.1, median=2.4, upper quartile=3.9, upper whisker=7.7}] coordinates {};
\addplot[bxs, boxplot prepared={draw position=6, lower whisker=0, lower quartile=2.0, median=4.4, upper quartile=7.0, upper whisker=13.7}] coordinates {};
\addplot[bxs, boxplot prepared={draw position=7, lower whisker=0, lower quartile=0, median=0.1, upper quartile=1.7, upper whisker=4.4}] coordinates {};
\addplot[bxs, boxplot prepared={draw position=8, lower whisker=0, lower quartile=0, median=0.05, upper quartile=0.3, upper whisker=0.6}] coordinates {};
\addplot[bxs, boxplot prepared={draw position=9, lower whisker=0, lower quartile=0, median=0, upper quartile=0.15, upper whisker=0.3}] coordinates {};
\addplot[bxs, boxplot prepared={draw position=10, lower whisker=0, lower quartile=0, median=0.1, upper quartile=0.4, upper whisker=0.9}] coordinates {};
\addplot[bxs, boxplot prepared={draw position=11, lower whisker=0, lower quartile=0.6, median=1.3, upper quartile=2.1, upper whisker=4.4}] coordinates {};
\addplot[bxs, boxplot prepared={draw position=12, lower whisker=0, lower quartile=0.1, median=0.3, upper quartile=0.5, upper whisker=1.0}] coordinates {};
\addplot[bxs, boxplot prepared={draw position=13, lower whisker=7.0, lower quartile=26.6, median=33.5, upper quartile=41.8, upper whisker=58.5}] coordinates {};
\addplot[bxs, boxplot prepared={draw position=14, lower whisker=0, lower quartile=0.1, median=0.4, upper quartile=3.6, upper whisker=8.9}] coordinates {};
\addplot[bxs, boxplot prepared={draw position=15, lower whisker=0, lower quartile=0, median=0.1, upper quartile=0.4, upper whisker=1.0}] coordinates {};
\addplot[bxs, boxplot prepared={draw position=16, lower whisker=0, lower quartile=0.3, median=0.8, upper quartile=1.9, upper whisker=4.4}] coordinates {};
\addplot[bxs, boxplot prepared={draw position=17, lower whisker=0, lower quartile=2.1, median=6.0, upper quartile=13.3, upper whisker=29.2}] coordinates {};
\addplot[bxs, boxplot prepared={draw position=18, lower whisker=0, lower quartile=0, median=0, upper quartile=0.15, upper whisker=0.3}] coordinates {};
\addplot[bxs, boxplot prepared={draw position=19, lower whisker=0, lower quartile=0, median=0.1, upper quartile=0.45, upper whisker=1.0}] coordinates {};
\addplot[bxs, boxplot prepared={draw position=20, lower whisker=0, lower quartile=6.7, median=12.2, upper quartile=18.6, upper whisker=35.8}] coordinates {};
\addplot[bxs, boxplot prepared={draw position=21, lower whisker=0, lower quartile=0, median=0, upper quartile=0.1, upper whisker=0.2}] coordinates {};
\addplot[bxs, boxplot prepared={draw position=22, lower whisker=0, lower quartile=0, median=0, upper quartile=0.1, upper whisker=0.2}] coordinates {};
\addplot[bxs, boxplot prepared={draw position=23, lower whisker=0, lower quartile=0, median=0, upper quartile=0.1, upper whisker=0.2}] coordinates {};
\addplot[bxs, boxplot prepared={draw position=24, lower whisker=0, lower quartile=0, median=0, upper quartile=0.1, upper whisker=0.2}] coordinates {};

\addplot[pts] table[x expr=\thisrow{d}+1, y=v] {\tA};
\addplot[pts] table[x expr=\thisrow{d}+2, y=v] {\tB};
\addplot[pts] table[x expr=\thisrow{d}+3, y=v] {\tC};
\addplot[pts] table[x expr=\thisrow{d}+4, y=v] {\tD};
\addplot[pts] table[x expr=\thisrow{d}+5, y=v] {\tE};
\addplot[pts] table[x expr=\thisrow{d}+6, y=v] {\tF};
\addplot[pts] table[x expr=\thisrow{d}+7, y=v] {\tG};
\addplot[pts] table[x expr=\thisrow{d}+8, y=v] {\tH};
\addplot[pts] table[x expr=\thisrow{d}+9, y=v] {\tI};
\addplot[pts] table[x expr=\thisrow{d}+10, y=v] {\tJ};
\addplot[pts] table[x expr=\thisrow{d}+11, y=v] {\tK};
\addplot[pts] table[x expr=\thisrow{d}+12, y=v] {\tL};
\addplot[pts] table[x expr=\thisrow{d}+13, y=v] {\tM};
\addplot[pts] table[x expr=\thisrow{d}+14, y=v] {\tN};
\addplot[pts] table[x expr=\thisrow{d}+15, y=v] {\tO};
\addplot[pts] table[x expr=\thisrow{d}+16, y=v] {\tP};
\addplot[pts] table[x expr=\thisrow{d}+17, y=v] {\tQ};
\addplot[pts] table[x expr=\thisrow{d}+18, y=v] {\tR};
\addplot[pts] table[x expr=\thisrow{d}+19, y=v] {\tS};
\addplot[pts] table[x expr=\thisrow{d}+20, y=v] {\tT};
\addplot[pts] table[x expr=\thisrow{d}+21, y=v] {\tU};
\addplot[pts] table[x expr=\thisrow{d}+22, y=v] {\tV};
\addplot[pts] table[x expr=\thisrow{d}+23, y=v] {\tW};
\addplot[pts] table[x expr=\thisrow{d}+24, y=v] {\tX};

\addplot[only marks, mark=none, nodes near coords, point meta=explicit symbolic,
  nodes near coords align={anchor=center},
  every node near coord/.append style={anchor=center, inner sep=0pt, font=\fontsize{8.9}{8.9}\selectfont\bfseries, text=labred}]
  table[x=x, y=y, meta=l] {\labs};
\end{axis}
\pgfresetboundingbox
\path[use as bounding box] (-39.2pt,-66.3pt) rectangle (709.6pt,494.5pt);
\end{tikzpicture}
\end{document}
